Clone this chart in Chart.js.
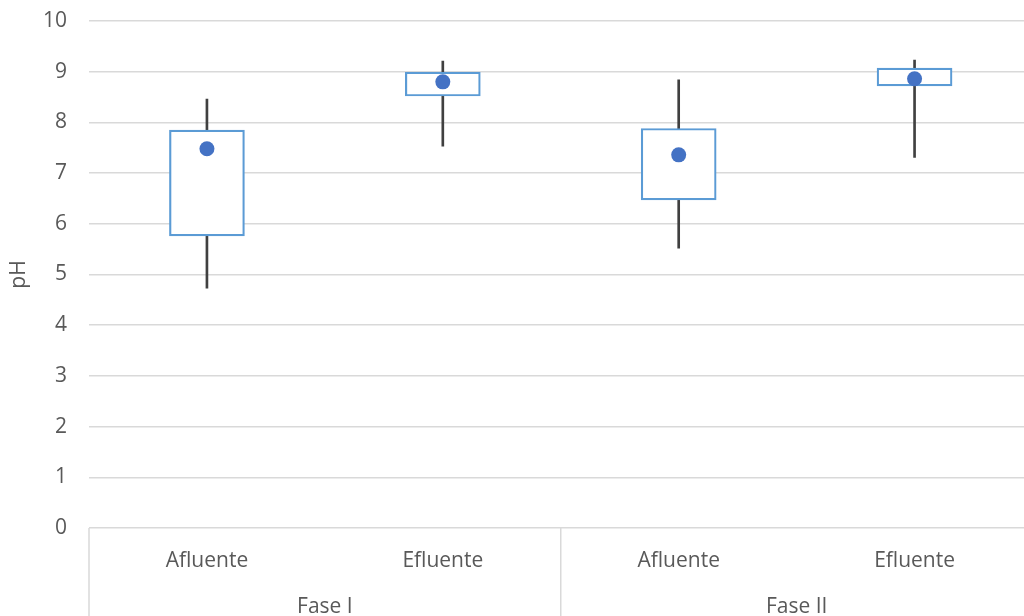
<!DOCTYPE html>
<html>
<head>
<meta charset="utf-8">
<script src="https://cdn.jsdelivr.net/npm/chart.js@4/dist/chart.umd.min.js"></script>
<style>
    html, body { margin: 0; padding: 0; background: #fff; overflow: hidden; }
    #wrap { width: 1040px; height: 616px; }
</style>
</head>
<body>
<div id="wrap"><canvas id="phChart" width="1040" height="616"></canvas></div>
<script>
// categories and groups
var categories = ['Afluente', 'Efluente', 'Afluente', 'Efluente'];
var groupLabels = ['Fase I', 'Fase II'];
var groupSizes = [2, 2];

// box plot values
var whiskerMin = [4.73, 7.53, 5.52, 7.31];
var whiskerMax = [8.46, 9.21, 8.84, 9.23];
var boxLow = [5.76, 8.52, 6.47, 8.72];
var boxHigh = [7.85, 8.99, 7.88, 9.07];
var means = [7.48, 8.80, 7.36, 8.86];

var yTicks = [0, 1, 2, 3, 4, 5, 6, 7, 8, 9, 10];

var textColor = '#595959';
var gridColor = '#d9d9d9';

function pairs(a, b) {
    var out = [];
    for (var i = 0; i < a.length; i++) {
        out.push([a[i], b[i]]);
    }
    return out;
}

// vertical separators between the groups under the axis
var groupSeparators = {
    id: 'groupSeparators',
    afterDraw: function (chart) {
        var x = chart.scales.x;
        var area = chart.chartArea;
        var ctx = chart.ctx;
        var step = x.getPixelForValue(1) - x.getPixelForValue(0);
        var idx = 0;
        var edges = [x.getPixelForValue(0) - step / 2];
        groupSizes.forEach(function (n) {
            idx += n;
            edges.push(x.getPixelForValue(idx - 1) + step / 2);
        });
        ctx.save();
        ctx.strokeStyle = gridColor;
        ctx.lineWidth = 1.5;
        edges.forEach(function (px) {
            ctx.beginPath();
            ctx.moveTo(px, area.bottom);
            ctx.lineTo(px, chart.height);
            ctx.stroke();
        });
        ctx.restore();
    }
};

var ctx = document.getElementById('phChart').getContext('2d');
new Chart(ctx, {
    type: 'bar',
    data: {
        labels: categories,
        datasets: [
            {
                type: 'line',
                label: 'Média',
                data: means,
                showLine: false,
                pointRadius: 7.5,
                pointHoverRadius: 7.5,
                pointBackgroundColor: '#4472C4',
                pointBorderWidth: 0,
                order: 0
            },
            {
                label: 'Caixa',
                data: pairs(boxLow, boxHigh),
                grouped: false,
                barThickness: 75,
                backgroundColor: '#ffffff',
                borderColor: '#5B9BD5',
                borderWidth: 2.2,
                borderSkipped: false,
                order: 1
            },
            {
                label: 'Bigode',
                data: pairs(whiskerMin, whiskerMax),
                grouped: false,
                barThickness: 2,
                backgroundColor: '#404040',
                borderWidth: 0,
                order: 2
            }
        ]
    },
    options: {
        responsive: false,
        animation: false,
        layout: { padding: { top: 21, right: 4, left: 0, bottom: 0 } },
        plugins: {
            legend: { display: false },
            tooltip: { enabled: false }
        },
        scales: {
            x: {
                offset: true,
                grid: { display: false },
                border: { display: false },
                ticks: {
                    color: textColor,
                    font: { family: 'Open Sans', size: 21 },
                    padding: 12,
                    maxRotation: 0,
                    autoSkip: false
                },
                afterFit: function (scale) { scale.height = 52; }
            },
            x2: {
                type: 'category',
                labels: groupLabels,
                position: 'bottom',
                offset: true,
                grid: { display: false },
                border: { display: false },
                ticks: {
                    color: textColor,
                    font: { family: 'Open Sans', size: 21 },
                    padding: 6,
                    maxRotation: 0
                },
                afterFit: function (scale) { scale.height = 36; }
            },
            y: {
                min: 0,
                max: 10,
                afterBuildTicks: function (scale) {
                    scale.ticks = yTicks.map(function (v) { return { value: v }; });
                },
                grid: { color: gridColor, lineWidth: 1.5, drawTicks: false },
                border: { display: false },
                ticks: {
                    color: textColor,
                    font: { family: 'Open Sans', size: 21 },
                    padding: 22
                },
                title: {
                    display: true,
                    text: 'pH',
                    color: textColor,
                    font: { family: 'Open Sans', size: 21, weight: 'normal' },
                    padding: { top: 6, bottom: 0 }
                },
                afterFit: function (scale) {
                    scale.width = 89;
                    scale.paddingTop = 0;
                }
            }
        }
    },
    plugins: [groupSeparators]
});
</script>
</body>
</html>
